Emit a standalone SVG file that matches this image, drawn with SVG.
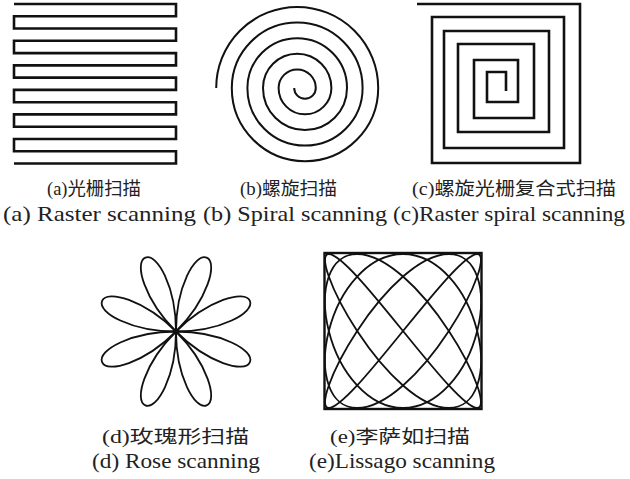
<svg xmlns="http://www.w3.org/2000/svg" xmlns:xlink="http://www.w3.org/1999/xlink" width="630" height="479" viewBox="0 0 630 479">
<style>
.ln{fill:none;stroke:#111;stroke-linejoin:miter;stroke-linecap:butt}
.zh{font-family:"Liberation Serif","Noto Sans CJK SC",serif;font-size:18px;fill:#222}
.en{font-family:"Liberation Serif","Noto Sans CJK SC",serif;font-size:21px;fill:#222}
</style>
<defs>
<path id="petal" d="M0,0 C41.6,17.2 80,12.5 80,0 C80,-12.5 41.6,-17.2 0,0 Z"/>
<path id="lq" d="M0,0 C16.34,20.16 32.63,40.19 45.85,54.45 C59.07,68.71 69.14,77 74.19,77 C79.24,77 79.24,68.71 74.19,54.45 C69.14,40.19 59.07,20.16 45.85,0 C32.63,-20.16 16.34,-40.19 0,-54.45 C-16.34,-68.71 -32.63,-77 -45.85,-77 C-59.07,-77 -69.14,-68.71 -74.19,-54.45 C-79.24,-40.19 -79.24,-20.16 -74.19,0 C-69.14,20.16 -59.07,40.19 -45.85,54.45 C-32.63,68.71 -16.34,77 0,77"/>
</defs>
<rect width="630" height="479" fill="#fff"/>

<g id="raster">
<polyline class="ln" stroke-width="2.6" points="14,4 176,4 176,16.3 14,16.3 14,28.5 176,28.5 176,40.8 14,40.8 14,53.1 176,53.1 176,65.4 14,65.4 14,77.6 176,77.6 176,89.9 14,89.9 14,102.2 176,102.2 176,114.4 14,114.4 14,126.7 176,126.7 176,139 14,139 14,151.2 176,151.2 176,163.5 14,163.5"/>
<text class="zh" x="47" y="195" textLength="94" lengthAdjust="spacingAndGlyphs">(a)光栅扫描</text>
<text class="en" x="3" y="221" textLength="193" lengthAdjust="spacingAndGlyphs">(a) Raster scanning</text>
</g>

<g id="spiral">
<path class="ln" stroke-width="2" d="M294.2,88 A10.8,10.8 0 0 0 315.8,88 A18.6,18.6 0 0 0 278.6,88 A26.4,26.4 0 0 0 331.4,88 A34.2,34.2 0 0 0 263,88 A42,42 0 0 0 347,88 A49.8,49.8 0 0 0 247.4,88 A57.6,57.6 0 0 0 362.6,88 A65.4,65.4 0 0 0 231.8,88 A73.2,73.2 0 0 0 378.2,88 A81,81 0 0 0 216.2,88"/>
<text class="zh" x="240" y="195" textLength="97" lengthAdjust="spacingAndGlyphs">(b)螺旋扫描</text>
<text class="en" x="203" y="221" textLength="184" lengthAdjust="spacingAndGlyphs">(b) Spiral scanning</text>
</g>

<g id="raster-spiral">
<polyline class="ln" stroke-width="2.6" points="417,4 580,4 580,163 432,163 432,17 564,17 564,148 444,148 444,31 549,31 549,132 458,132 458,44 534,44 534,118 474,118 474,60 518,60 518,102 487,102 487,72 506,72 506,91"/>
<text class="zh" x="412" y="195" textLength="204" lengthAdjust="spacingAndGlyphs">(c)螺旋光栅复合式扫描</text>
<text class="en" x="393" y="221" textLength="232" lengthAdjust="spacingAndGlyphs">(c)Raster spiral scanning</text>
</g>

<g id="rose">
<g transform="translate(176,331.5)" class="ln" stroke-width="1.8">
<use xlink:href="#petal" href="#petal" transform="rotate(22.5)"/>
<use xlink:href="#petal" href="#petal" transform="rotate(67.5)"/>
<use xlink:href="#petal" href="#petal" transform="rotate(112.5)"/>
<use xlink:href="#petal" href="#petal" transform="rotate(157.5)"/>
<use xlink:href="#petal" href="#petal" transform="rotate(202.5)"/>
<use xlink:href="#petal" href="#petal" transform="rotate(247.5)"/>
<use xlink:href="#petal" href="#petal" transform="rotate(292.5)"/>
<use xlink:href="#petal" href="#petal" transform="rotate(337.5)"/>
</g>
<text class="zh" x="102" y="443" textLength="147" lengthAdjust="spacingAndGlyphs">(d)玫瑰形扫描</text>
<text class="en" x="92" y="468" textLength="168" lengthAdjust="spacingAndGlyphs">(d) Rose scanning</text>
</g>

<g id="lissajous">
<rect class="ln" stroke-width="2.4" x="324.5" y="253" width="157" height="156"/>
<g transform="translate(403,331)" class="ln" stroke-width="1.8">
<use xlink:href="#lq" href="#lq"/>
<use xlink:href="#lq" href="#lq" transform="scale(-1,1)"/>
<use xlink:href="#lq" href="#lq" transform="scale(1,-1)"/>
<use xlink:href="#lq" href="#lq" transform="scale(-1,-1)"/>
</g>
<text class="zh" x="330" y="443" textLength="140" lengthAdjust="spacingAndGlyphs">(e)李萨如扫描</text>
<text class="en" x="309" y="468" textLength="186" lengthAdjust="spacingAndGlyphs">(e)Lissago scanning</text>
</g>
</svg>
